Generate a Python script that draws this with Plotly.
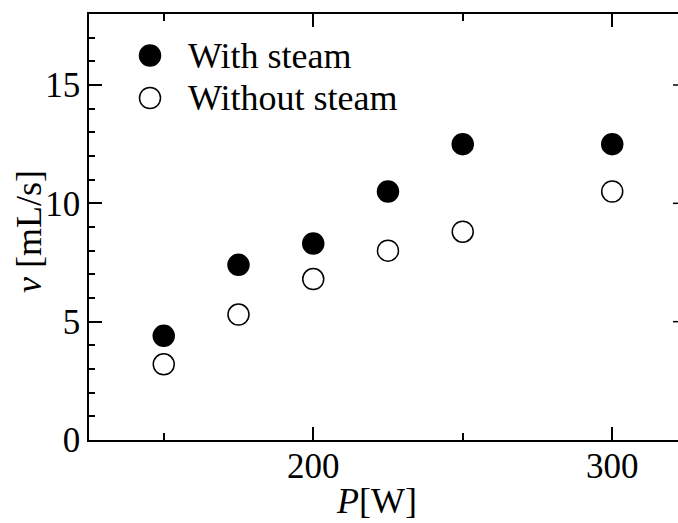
import plotly.graph_objects as go

# Heater power [W] and measured flow rate [mL/s]
power = [150, 175, 200, 225, 250, 300]
flow_with_steam = [4.4, 7.4, 8.3, 10.5, 12.5, 12.5]
flow_without_steam = [3.2, 5.3, 6.8, 8.0, 8.8, 10.5]
series_names = ["With steam", "Without steam"]
x_title = "<i>P</i>[W]"
y_title = "<i>v</i> [mL/s]"
right_tick_vals = [5, 10, 15]

FONT = "Liberation Serif"
W, H = 678, 523
M_L, M_R, M_T, M_B = 89, 0, 14, 83
plot_w = W - M_L - M_R
plot_h = H - M_T - M_B


def px_x(px):
    return (px - M_L) / plot_w


def px_y(px):
    return (H - M_B - px) / plot_h


fig = go.Figure()
fig.add_trace(go.Scatter(
    x=power, y=flow_with_steam, mode="markers", name=series_names[0],
    marker=dict(size=21, color="black", line=dict(color="black", width=1.5)),
    showlegend=False,
))
fig.add_trace(go.Scatter(
    x=power, y=flow_without_steam, mode="markers", name=series_names[1],
    marker=dict(size=21, color="white", line=dict(color="black", width=1.5)),
    showlegend=False,
))

# Hand-placed legend with full-size symbols
leg_x_px = 150
leg_rows_px = [55.5, 98]
fills = ["black", "white"]
shapes = []
annotations = []
for name, fill, ypx in zip(series_names, fills, leg_rows_px):
    shapes.append(dict(
        type="circle", xref="paper", yref="paper",
        xsizemode="pixel", ysizemode="pixel",
        xanchor=px_x(leg_x_px), yanchor=px_y(ypx),
        x0=-10.5, x1=10.5, y0=-10.5, y1=10.5,
        fillcolor=fill, line=dict(color="black", width=1.5),
    ))
    annotations.append(dict(
        text=name, xref="paper", yref="paper",
        x=px_x(186), y=px_y(ypx), xanchor="left", yanchor="middle",
        showarrow=False, font=dict(family=FONT, size=36, color="black"),
    ))

# Axis titles
annotations.append(dict(
    text=x_title, xref="paper", yref="paper",
    x=px_x(376), y=px_y(501), xanchor="center", yanchor="middle",
    showarrow=False, font=dict(family=FONT, size=36, color="black"),
))
annotations.append(dict(
    text=y_title, xref="paper", yref="paper", textangle=-90,
    x=px_x(29), y=px_y(232), xanchor="center", yanchor="middle",
    showarrow=False, font=dict(family=FONT, size=36, color="black"),
))

# Inward ticks of the (clipped) right-hand axis
for v in right_tick_vals:
    shapes.append(dict(
        type="line", xref="paper", yref="y",
        xsizemode="pixel", xanchor=1, x0=-5, x1=0, y0=v, y1=v,
        line=dict(color="black", width=1.5),
    ))

fig.update_layout(
    width=W, height=H,
    margin=dict(l=M_L, r=M_R, t=M_T, b=M_B, autoexpand=False),
    paper_bgcolor="white", plot_bgcolor="white",
    font=dict(family=FONT, size=35, color="black"),
    shapes=shapes, annotations=annotations,
)
fig.update_xaxes(
    range=[125, 322], tick0=0, dtick=100,
    ticks="inside", ticklen=13, tickwidth=1.5, tickcolor="black",
    minor=dict(dtick=50, tick0=0, ticks="inside", ticklen=7, tickwidth=1.5, tickcolor="black"),
    showline=True, linecolor="black", linewidth=1.5, mirror="ticks",
    showgrid=False, zeroline=False, automargin=False,
    ticklabelstandoff=-6,
    tickfont=dict(family=FONT, size=35),
)
fig.update_yaxes(
    range=[0, 18], tick0=0, dtick=5,
    ticks="inside", ticklen=13, tickwidth=1.5, tickcolor="black",
    minor=dict(dtick=1, tick0=0, ticks="inside", ticklen=6, tickwidth=1.5, tickcolor="black"),
    showline=True, linecolor="black", linewidth=1.5, mirror=False,
    showgrid=False, zeroline=False, automargin=False,
    tickfont=dict(family=FONT, size=35),
)

fig.write_html("out.html")
